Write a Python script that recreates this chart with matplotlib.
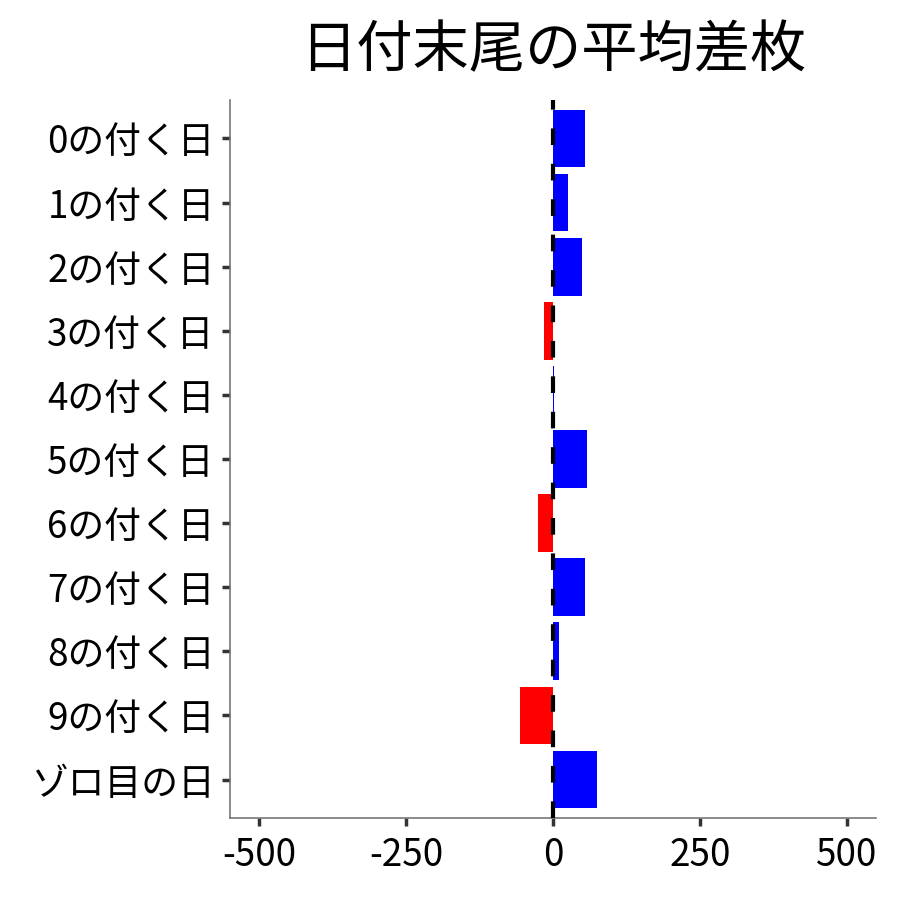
import matplotlib
matplotlib.use("Agg")
import matplotlib.pyplot as plt

plt.rcParams['font.family'] = ['Noto Sans CJK JP', 'DejaVu Sans']

# データ
labels = ["0の付く日", "1の付く日", "2の付く日", "3の付く日", "4の付く日",
          "5の付く日", "6の付く日", "7の付く日", "8の付く日", "9の付く日", "ゾロ目の日"]
values = [55, 26, 50, -15, 2, 58, -25, 55, 11, -56, 75]
xticks = [-500, -250, 0, 250, 500]

colors = ["blue" if v >= 0 else "red" for v in values]

fig = plt.figure(figsize=(9, 9), dpi=100)
ax = fig.add_axes([0.2556, 0.0911, 0.7177, 0.7978])

ypos = list(range(len(labels)))
ax.barh(ypos, values, height=0.9, color=colors, zorder=2)
ax.axvline(0, color="black", linestyle=(0, (4, 4.5)), linewidth=3, zorder=3)

ax.set_yticks(ypos)
ax.set_yticklabels(labels, fontsize=26.5)
ax.set_ylim(len(labels) - 0.4, -0.6)
ax.set_xticks(xticks)
ax.set_xticklabels([str(t) for t in xticks], fontsize=26.5)
ax.set_xlim(-550, 550)

for side in ["top", "right"]:
    ax.spines[side].set_visible(False)
for side in ["left", "bottom"]:
    ax.spines[side].set_color("#777777")
    ax.spines[side].set_linewidth(1.2)
ax.tick_params(length=6, width=2.5, color="#333333", pad=5)
ax.tick_params(axis="x", pad=7)

fig.suptitle("日付末尾の平均差枚", fontsize=40.5, x=0.6144, y=0.975, va="top")

plt.savefig("out.png", dpi=100)
